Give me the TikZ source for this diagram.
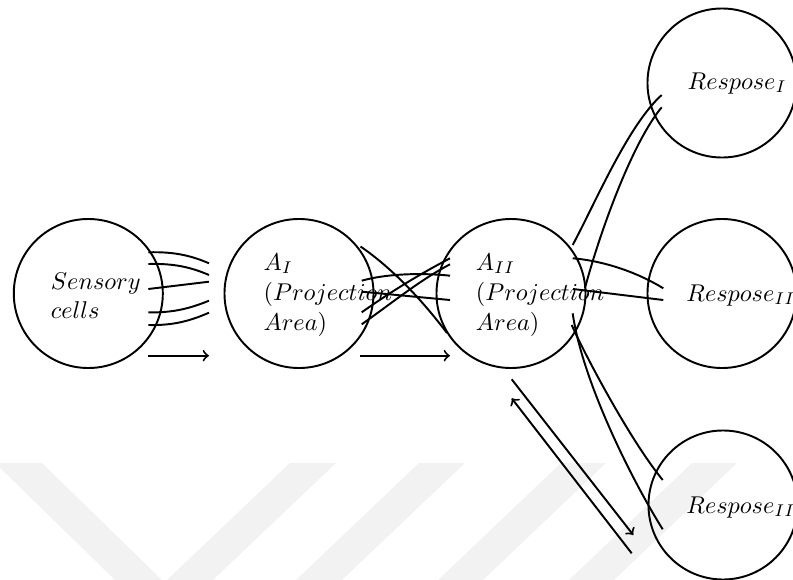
\documentclass[tikz,border=0pt]{standalone}
\begin{document}
\begin{tikzpicture}[x=0.412pt,y=-0.412pt,line width=0.8pt,
  circ/.style={draw,circle,minimum size=61.4pt,inner sep=0pt},
  lbl/.style={anchor=base west,inner sep=0pt},
  wm/.style={fill=black!5,draw=none}]
\useasboundingbox (0,0) rectangle (793,580);
% watermark stripes
\fill[wm] (-5,463) -- (42,463) -- (162,580) -- (115,580) -- cycle;
\fill[wm] (290,463) -- (336,463) -- (213,580) -- (167,580) -- cycle;
\fill[wm] (419,463) -- (465,463) -- (342,580) -- (296,580) -- cycle;
\fill[wm] (561,463) -- (606,463) -- (483,580) -- (438,580) -- cycle;
\fill[wm] (692,463) -- (737,463) -- (614,580) -- (569,580) -- cycle;
% circles
\node[circ] (S)  at (88.3,293.5) {};
\node[circ] (A1) at (299,293.5) {};
\node[circ] (A2) at (511,293.5) {};
\node[circ] (R1) at (722,83) {};
\node[circ] (R2) at (722,293.5) {};
\node[circ] (R3) at (723,505) {};
% labels
\node[lbl] (tS1) at (50,289) {$Sensory$};
\node[lbl] (tS2) at (50,318) {$cells$};
\node[lbl] (tA1) at (262.7,270) {$A_I$};
\node[lbl] (tA2) at (262.7,300) {$(Projection$};
\node[lbl] (tA3) at (262.7,330) {$Area)$};
\node[lbl] (tB1) at (475,270) {$A_{II}$};
\node[lbl] (tB2) at (475,300) {$(Projection$};
\node[lbl] (tB3) at (475,330) {$Area)$};
\node[lbl] (tR1) at (686.7,89.3) {$Respose_I$};
\node[lbl] (tR2) at (685.5,301) {$Respose_{II}$};
\node[lbl] (tR3) at (685.5,513) {$Respose_{II}$};
% Sensory -> A_I
\coordinate (s1a) at (148.3,252.3); \coordinate (s1b) at (209,263.3);
\coordinate (s2a) at (148.3,264);   \coordinate (s2b) at (209,275);
\coordinate (s3a) at (148.3,289);   \coordinate (s3b) at (209,281.7);
\coordinate (s4a) at (148.3,312.3); \coordinate (s4b) at (209,300.7);
\coordinate (s5a) at (148.3,325);   \coordinate (s5b) at (209,312.7);
\coordinate (sra) at (148.3,355.7); \coordinate (srb) at (209,355.7);
\draw (s1a) .. controls (175,251.5) and (192,256) .. (s1b);
\draw (s2a) .. controls (175,263.2) and (192,267.7) .. (s2b);
\draw (s3a) -- (s3b);
\draw (s4a) .. controls (175,313) and (192,307.5) .. (s4b);
\draw (s5a) .. controls (175,325.7) and (192,320) .. (s5b);
\draw[->] (sra) -- (srb);
% A_I -> A_II
\coordinate (a1a) at (360.5,246.5); \coordinate (a1b) at (447,333);
\coordinate (a2a) at (361.7,280.7); \coordinate (a2b) at (450,275.7);
\coordinate (a3a) at (361.7,291.7); \coordinate (a3b) at (450,300);
\coordinate (a4a) at (361.7,312.3); \coordinate (a4b) at (450,258.3);
\coordinate (a5a) at (361.7,324.3); \coordinate (a5b) at (450,264.3);
\coordinate (ara) at (360,355.7);   \coordinate (arb) at (450,355.7);
\draw (a1a) .. controls (392,268) and (422,300) .. (a1b);
\draw (a2a) .. controls (385,274) and (420,272.5) .. (a2b);
\draw (a3a) -- (a3b);
\draw (a4a) .. controls (392,291) and (420,274) .. (a4b);
\draw (a5a) .. controls (392,303) and (420,280) .. (a5b);
\draw[->] (ara) -- (arb);
% A_II -> Respose I
\coordinate (b1a) at (572.7,245); \coordinate (b1b) at (661.7,95);
\coordinate (b2a) at (585,288);   \coordinate (b2b) at (661.7,107.3);
\draw (b1a) .. controls (596.2,200.9) and (628.3,125.1) .. (b1b);
\draw (b2a) .. controls (600.5,230) and (632.8,141.8) .. (b2b);
% A_II -> Respose II (middle)
\coordinate (c1a) at (572.7,258.3); \coordinate (c1b) at (663.3,288.3);
\coordinate (c2a) at (573,289);     \coordinate (c2b) at (663.3,300);
\draw (c1a) .. controls (595,260) and (630,268) .. (c1b);
\draw (c2a) -- (c2b);
% A_II -> Respose II (bottom)
\coordinate (d1a) at (572.7,313.3); \coordinate (d1b) at (662.7,529.3);
\coordinate (d2a) at (571.7,325);   \coordinate (d2b) at (662.7,480);
\draw (d1a) .. controls (582,380) and (630.9,478.4) .. (d1b);
\draw (d2a) .. controls (585,355) and (630,440) .. (d2b);
% feedback arrows
\coordinate (e1a) at (631.7,553.3); \coordinate (e1b) at (511.7,398.3);
\coordinate (e2a) at (511.7,379.3); \coordinate (e2b) at (633.3,535);
\draw[->] (e1a) -- (e1b);
\draw[->] (e2a) -- (e2b);
\end{tikzpicture}
\end{document}
